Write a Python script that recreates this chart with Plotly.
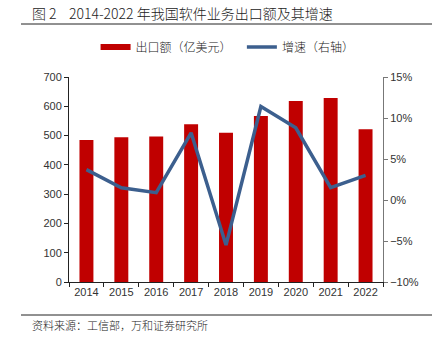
import plotly.graph_objects as go

years = ["2014", "2015", "2016", "2017", "2018", "2019", "2020", "2021", "2022"]
exports = [485, 494, 497, 539, 510, 567, 618, 628, 522]
growth = [3.7, 1.5, 0.9, 8.2, -5.5, 11.4, 8.8, 1.5, 3.0]

RED = "#C00000"
BLUE = "#3C5F8E"
FONT_CJK = "Noto Sans CJK SC"
FONT_NUM = "Liberation Sans"

fig = go.Figure()
fig.add_trace(go.Bar(x=years, y=exports, marker=dict(color=RED, line=dict(width=0)),
                     name="出口额（亿美元）", showlegend=False, yaxis="y"))
fig.add_trace(go.Scatter(x=[None], y=[None], mode="lines", line=dict(color=RED, width=6),
                         name="出口额（亿美元）&nbsp;&nbsp;", yaxis="y"))
fig.add_trace(go.Scatter(x=years, y=growth, mode="lines", line=dict(color=BLUE, width=3.5),
                         name="增速（右轴）", yaxis="y2"))

fig.update_layout(
    width=442, height=339,
    margin=dict(l=69, r=59, t=77, b=57),
    paper_bgcolor="white", plot_bgcolor="white",
    bargap=0.6,
    font=dict(family=FONT_NUM, size=11, color="#222"),
    showlegend=True,
    legend=dict(orientation="h", x=0.505, xanchor="center", y=1.146, yanchor="middle",
                font=dict(family=FONT_CJK, size=12, color="#222", weight=300), itemwidth=30,
                bgcolor="rgba(0,0,0,0)"),
    xaxis=dict(showline=True, linecolor="#222", linewidth=1, ticks="outside",
               tickson="boundaries", ticklen=4, tickcolor="#222", showgrid=False,
               tickfont=dict(family=FONT_NUM, size=11, color="#333")),
    yaxis=dict(range=[0, 700], dtick=100, showline=True, linecolor="#222", linewidth=1,
               ticks="outside", ticklen=4, tickcolor="#222", showgrid=False, zeroline=False,
               tickfont=dict(family=FONT_NUM, size=11, color="#333")),
    yaxis2=dict(range=[-10, 15], dtick=5, overlaying="y", side="right", showline=True,
                linecolor="#777", linewidth=1, ticks="outside", ticklen=4, tickcolor="#777",
                showgrid=False, zeroline=False, ticksuffix="%",
                tickfont=dict(family=FONT_NUM, size=11, color="#333")),
)

fig.add_annotation(text="图&nbsp;2&nbsp;&nbsp;&nbsp;&nbsp;2014-2022&nbsp;年我国软件业务出口额及其增速",
                   xref="paper", yref="paper",
                   x=(30 - 69) / 314, y=(282 - 13) / 205, xanchor="left", yanchor="middle",
                   showarrow=False, font=dict(family=FONT_CJK, size=14, color="#222", weight=300))
fig.add_annotation(text="资料来源：工信部，万和证券研究所", xref="paper", yref="paper",
                   x=(30 - 69) / 314, y=(282 - 325) / 205, xanchor="left", yanchor="middle",
                   showarrow=False, font=dict(family=FONT_CJK, size=11, color="#222", weight=300))

for py in (24, 315):
    fig.add_shape(type="line", xref="paper", yref="paper",
                  x0=(21 - 69) / 314, x1=(432 - 69) / 314,
                  y0=(282 - py) / 205, y1=(282 - py) / 205,
                  line=dict(color="#222", width=1))

fig.write_html("out.html")
